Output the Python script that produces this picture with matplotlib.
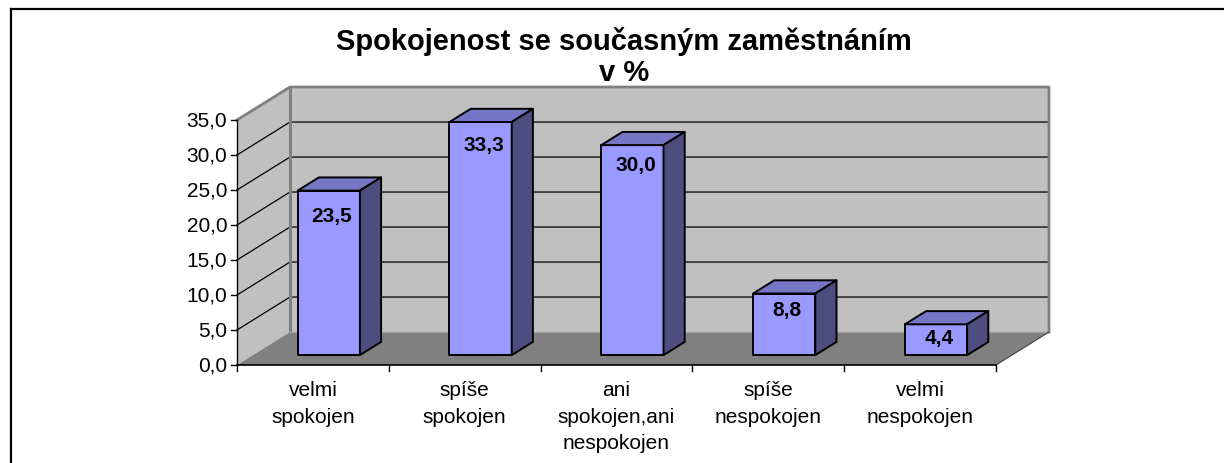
import matplotlib
matplotlib.use("Agg")
import matplotlib.pyplot as plt
from matplotlib.patches import Polygon
from matplotlib.lines import Line2D

plt.rcParams['font.family'] = ['Liberation Sans', 'DejaVu Sans']

# data
categories = ['velmi\nspokojen', 'spíše\nspokojen', 'ani\nspokojen,ani\nnespokojen',
              'spíše\nnespokojen', 'velmi\nnespokojen']
values = [23.5, 33.3, 30.0, 8.8, 4.4]
y_ticks = [0, 5, 10, 15, 20, 25, 30, 35]
title_lines = ['Spokojenost se současným zaměstnáním', 'v %']

# 3d look (depth offset in data units)
dx, dy = 0.349, 4.71
bar_w = 0.41
f0, fd = 0.30, 0.40
n = len(categories)
x0, x1 = -0.5, n - 0.5
ymax = y_ticks[-1]

fig = plt.figure(figsize=(12.24, 4.64), dpi=100)
ax = fig.add_axes([0, 0, 1, 1])
ax.set_xlim(-0.5 - 237 / 151.8, -0.5 + (1224 - 237) / 151.8)
ax.set_ylim(-(464 - 366) / 7, 366 / 7)
ax.axis('off')

wall = '#C0C0C0'
floor = '#808080'
edge = '#808080'

# walls and floor
ax.add_patch(Polygon([(x0, 0), (x0, ymax), (x0 + dx, ymax + dy), (x0 + dx, dy)],
                     closed=True, fc=wall, ec='none', zorder=1))
ax.add_patch(Polygon([(x0 + dx, dy), (x1 + dx, dy), (x1 + dx, ymax + dy), (x0 + dx, ymax + dy)],
                     closed=True, fc=wall, ec='none', zorder=1))
ax.add_patch(Polygon([(x0, 0), (x1, 0), (x1 + dx, dy), (x0 + dx, dy)],
                     closed=True, fc=floor, ec='none', zorder=1))

# gridlines
for v in y_ticks[1:-1]:
    ax.plot([x0, x0 + dx, x1 + dx], [v, v + dy, v + dy], color='black', lw=0.9, zorder=2)

# wall edges
ax.plot([x0, x0 + dx, x1 + dx, x1 + dx], [ymax, ymax + dy, ymax + dy, dy], color=edge, lw=2, zorder=2)
ax.plot([x0 + dx, x0 + dx], [dy, ymax + dy], color=edge, lw=2.2, zorder=2)
ax.plot([x0 + dx, x1 + dx], [dy, dy], color='#A0A0A0', lw=1, zorder=2)
ax.plot([x1, x1 + dx], [0, dy], color='#404040', lw=0.8, zorder=2)

# bars
for i, v in enumerate(values):
    l = i - bar_w / 2 + f0 * dx
    r = i + bar_w / 2 + f0 * dx
    b = f0 * dy
    t = b + v
    ddx, ddy = fd * dx, fd * dy
    kw = dict(closed=True, ec='black', lw=1.4, joinstyle='round', zorder=3)
    ax.add_patch(Polygon([(l, b), (r, b), (r, t), (l, t)], fc='#9999FF', **kw))
    ax.add_patch(Polygon([(l, t), (r, t), (r + ddx, t + ddy), (l + ddx, t + ddy)], fc='#7676C6', **kw))
    ax.add_patch(Polygon([(r, b), (r + ddx, b + ddy), (r + ddx, t + ddy), (r, t)], fc='#4D4D80', **kw))
    # labels sit a bit lower on the left bars (excel perspective)
    off = -(25 - 3 * i) * 0.72
    ax.annotate(f'{v:.1f}'.replace('.', ','), ((l + r) / 2 + 0.02, t), xytext=(0, off),
                textcoords='offset points', ha='center', va='center',
                fontsize=15, fontweight='bold', zorder=4)

# axes lines and ticks
ax.plot([x0, x0], [0, ymax], color='black', lw=1, zorder=4)
ax.plot([x0, x1], [0, 0], color='black', lw=1.2, zorder=4)
for v in y_ticks:
    ax.plot([x0 - 0.04, x0], [v, v], color='black', lw=1, zorder=4)
    ax.annotate(f'{v:.1f}'.replace('.', ','), (x0, v), xytext=(-7, 0),
                textcoords='offset points', ha='right', va='center', fontsize=15)
for k in range(n + 1):
    ax.plot([x0 + k, x0 + k], [0, -0.9], color='black', lw=1, zorder=4)
for i, c in enumerate(categories):
    ax.annotate(c, (i, 0), xytext=(0, -11), textcoords='offset points',
                ha='center', va='top', fontsize=15, linespacing=1.5)

fig.text(624 / 1224, 1 - 41 / 464, title_lines[0], ha='center', va='center',
         fontsize=21, fontweight='bold')
fig.text(624 / 1224, 1 - 73 / 464, title_lines[1], ha='center', va='center',
         fontsize=21, fontweight='bold')

# outer frame
fig.add_artist(Line2D([11 / 1224, 1.01], [1 - 9.5 / 464] * 2, color='black', lw=1.6,
                      transform=fig.transFigure))
fig.add_artist(Line2D([11 / 1224] * 2, [-0.01, 1 - 9.5 / 464], color='black', lw=1.6,
                      transform=fig.transFigure))

fig.savefig('out.png', dpi=100)
